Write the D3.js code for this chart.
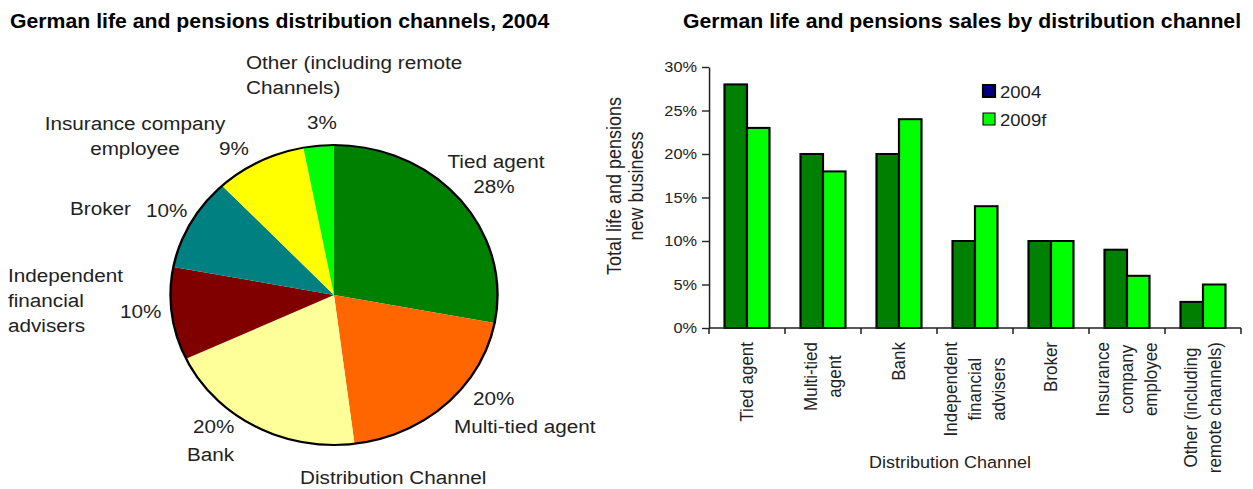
<!DOCTYPE html>
<html>
<head>
<meta charset="utf-8">
<style>
body { margin: 0; background: #fff; }
svg { display: block; }
text { font-family: "Liberation Sans", Arial, sans-serif; fill: #222; }
.title { font-weight: bold; font-size: 19.5px; fill: #000; }
.pie-label { font-size: 19px; }
.tick text { font-size: 15px; fill: #222; }
.axis path, .axis line { stroke: #222; stroke-width: 1.4px; }
</style>
</head>
<body>
<svg width="1253" height="489"></svg>
<script src="https://cdn.jsdelivr.net/npm/d3@7/dist/d3.min.js"></script>
<script>
// data
var channels = ["Tied agent", "Multi-tied agent", "Bank", "Independent financial advisers",
  "Broker", "Insurance company employee", "Other (including remote channels)"];
var share2004 = [28, 20, 20, 10, 10, 9, 3];
var share2009f = [23, 18, 24, 14, 10, 6, 5];
var years = ["2004", "2009f"];
var yTicks = [0, 5, 10, 15, 20, 25, 30];

var pieNames = [["Tied agent"], ["Multi-tied agent"], ["Bank"], ["Independent", "financial", "advisers"],
  ["Broker"], ["Insurance company", "employee"], ["Other (including remote", "Channels)"]];
var barNames = [["Tied agent"], ["Multi-tied", "agent"], ["Bank"], ["Independent", "financial", "advisers"],
  ["Broker"], ["Insurance", "company", "employee"], ["Other (including", "remote channels)"]];

var pieColors = ["#008000", "#ff6600", "#ffff99", "#800000", "#008080", "#ffff00", "#00ff00"];
var barColors = ["#008000", "#00ff00"];
var legendColors = ["#000080", "#00ff00"];

// the original image is a bit stretched sideways, so draw everything through this
var SX = 1.09;
function px(v) { return v / SX; }

// where the old excel chart put its pie labels: [x, baseline, anchor]
var pieLabelPos = [
  { name: [496, 168, "middle"], pct: [494, 193, "middle"] },
  { name: [454, 433, "start"], pct: [473, 405, "start"] },
  { name: [187, 461, "start"], pct: [193, 433, "start"] },
  { name: [8, 282, "start"], pct: [120, 318, "start"] },
  { name: [70, 215, "start"], pct: [146, 217, "start"] },
  { name: [135, 130, "middle"], pct: [219, 155, "start"] },
  { name: [246, 69, "start"], pct: [307, 129, "start"] }
];

var svg = d3.select("svg");
var root = svg.append("g").attr("transform", "scale(" + SX + ",1)");

// ---------- left: pie ----------
root.append("text").attr("class", "title")
  .attr("x", px(10)).attr("y", 28)
  .text("German life and pensions distribution channels, 2004");

var R = 150;
var pie = d3.pie().sort(null).value(function(d) { return d; });
var arc = d3.arc().innerRadius(0).outerRadius(R);
var pieG = root.append("g").attr("transform", "translate(" + px(334) + ",295)");

pieG.selectAll("path")
  .data(pie(share2004))
  .enter().append("path")
    .attr("d", arc)
    .attr("fill", function(d, i) { return pieColors[i]; });

pieG.append("circle")
  .attr("r", R)
  .attr("fill", "none")
  .attr("stroke", "#000")
  .attr("stroke-width", 2.2);

pieLabelPos.forEach(function(p, i) {
  var t = root.append("text").attr("class", "pie-label")
    .attr("text-anchor", p.name[2]);
  pieNames[i].forEach(function(line, j) {
    t.append("tspan").attr("x", px(p.name[0])).attr("y", p.name[1] + j * 25).text(line);
  });
  root.append("text").attr("class", "pie-label")
    .attr("text-anchor", p.pct[2])
    .attr("x", px(p.pct[0])).attr("y", p.pct[1])
    .text(share2004[i] + "%");
});

root.append("text").attr("class", "pie-label")
  .attr("x", px(300)).attr("y", 484)
  .text("Distribution Channel");

// ---------- right: grouped bars ----------
root.append("text").attr("class", "title")
  .attr("x", px(683)).attr("y", 28)
  .text("German life and pensions sales by distribution channel");

var x0 = d3.scaleBand().domain(channels).range([px(709), px(1241)]);
var x1 = d3.scaleBand().domain(years).range([0, x0.bandwidth()]).paddingOuter(0.69);
var y = d3.scaleLinear().domain([0, 30]).range([328, 67]);

var series = [share2004, share2009f];

var groups = root.append("g").selectAll("g")
  .data(channels)
  .enter().append("g")
    .attr("transform", function(d) { return "translate(" + x0(d) + ",0)"; });

groups.selectAll("rect")
  .data(function(d, i) { return years.map(function(yr, k) { return { year: yr, value: series[k][i] }; }); })
  .enter().append("rect")
    .attr("x", function(d) { return x1(d.year); })
    .attr("y", function(d) { return y(d.value); })
    .attr("width", x1.bandwidth())
    .attr("height", function(d) { return y(0) - y(d.value); })
    .attr("fill", function(d, k) { return barColors[k]; })
    .attr("stroke", "#000")
    .attr("stroke-width", 2);

// y axis
root.append("g").attr("class", "axis")
  .attr("transform", "translate(" + px(709) + ",0)")
  .call(d3.axisLeft(y).tickValues(yTicks).tickFormat(function(d) { return d + "%"; })
    .tickSize(px(7)).tickSizeOuter(0).tickPadding(px(5)));

// x axis: baseline plus ticks between categories
var xAxis = root.append("g").attr("class", "axis");
xAxis.append("line")
  .attr("x1", x0.range()[0]).attr("x2", x0.range()[1])
  .attr("y1", y(0)).attr("y2", y(0));
xAxis.selectAll("line.sep")
  .data(channels.map(function(c) { return x0(c); }).concat([x0.range()[1]]))
  .enter().append("line").attr("class", "sep")
    .attr("x1", function(d) { return d; }).attr("x2", function(d) { return d; })
    .attr("y1", y(0)).attr("y2", y(0) + 6);

// category labels, rotated, lines centred on each other, block hung from the axis
barNames.forEach(function(lines, i) {
  var g = root.append("g")
    .attr("transform", "translate(" + (x0(channels[i]) + x0.bandwidth() / 2) + ",342) rotate(-90)");
  var t = g.append("text").style("font-size", "17px").attr("text-anchor", "middle");
  var spans = lines.map(function(line, j) {
    return t.append("tspan")
      .attr("y", px((j - (lines.length - 1) / 2) * 24 + 6))
      .text(line);
  });
  var L = d3.max(spans, function(s) { return s.node().getComputedTextLength(); });
  spans.forEach(function(s) { s.attr("x", -L / 2); });
});

root.append("text")
  .style("font-size", "16.5px")
  .attr("text-anchor", "middle")
  .attr("x", px(950)).attr("y", 468)
  .text("Distribution Channel");

// y title
[["Total life and pensions", 621], ["new business", 643]].forEach(function(l) {
  root.append("text")
    .style("font-size", "18px")
    .attr("text-anchor", "middle")
    .attr("transform", "translate(" + px(l[1]) + ",186) rotate(-90)")
    .text(l[0]);
});

// legend
var legend = root.append("g").selectAll("g")
  .data(years)
  .enter().append("g")
    .attr("transform", function(d, i) { return "translate(" + px(983) + "," + (85 + i * 28) + ")"; });
legend.append("rect")
  .attr("width", px(12)).attr("height", 12)
  .attr("fill", function(d, i) { return legendColors[i]; })
  .attr("stroke", "#000")
  .attr("stroke-width", function(d, i) { return i === 0 ? 2 : 1; });
legend.append("text")
  .style("font-size", "17px")
  .attr("x", px(17)).attr("y", 13)
  .text(function(d) { return d; });
</script>
</body>
</html>
